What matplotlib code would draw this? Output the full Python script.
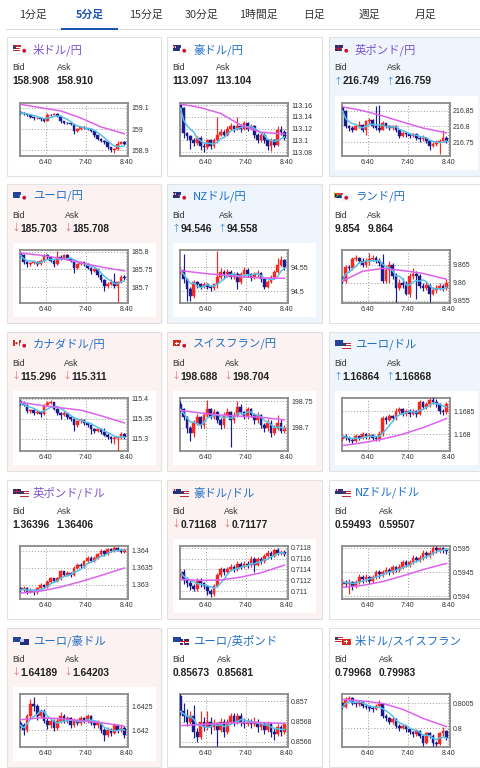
import matplotlib
matplotlib.use('Agg')
import matplotlib.pyplot as plt
from matplotlib.patches import Rectangle, Ellipse, Polygon
import numpy as np
import pandas as pd

# ---------------- data ----------------
tabs = ["1分足", "5分足", "15分足", "30分足", "1時間足", "日足", "週足", "月足"]
active_tab = "5分足"
x_tick_vals = [40, 100, 160]          # minutes after 6:00
x_tick_labels = ["6:40", "7:40", "8:40"]
ma_knots = [0, 6, 12, 18, 24, 31]     # candle index of long-MA readings

# 米ドル/円
usdjpy_open = 159.082
usdjpy_close = [159.075,159.072,159.065,159.056,159.050,159.052,159.046,159.040,159.068,159.066,159.072,159.060,159.036,159.030,159.028,159.024,158.990,159.000,159.010,159.005,159.000,158.990,158.970,158.955,158.946,158.940,158.915,158.900,158.905,158.932,158.940,158.930]
usdjpy_high = [159.085,159.078,159.074,159.066,159.057,159.055,159.054,159.048,159.074,159.071,159.075,159.073,159.062,159.038,159.034,159.030,159.026,159.004,159.014,159.013,159.006,159.002,158.992,158.972,158.958,158.950,158.942,158.916,158.912,158.942,158.945,158.942]
usdjpy_low = [159.070,159.066,159.060,159.050,159.044,159.046,159.040,159.034,159.038,159.060,159.064,159.056,159.030,159.024,159.022,159.018,158.976,158.986,158.998,159.000,158.994,158.984,158.962,158.948,158.938,158.932,158.905,158.893,158.890,158.900,158.930,158.925]
usdjpy_ma = [159.116,159.100,159.085,159.052,159.010,158.978]
usdjpy_ticks = [158.9, 159.0, 159.1]
usdjpy_tick_labels = ["158.9", "159", "159.1"]

# 豪ドル/円
audjpy_open = 113.162
audjpy_close = [113.155,113.113,113.107,113.100,113.095,113.105,113.090,113.088,113.100,113.090,113.100,113.110,113.115,113.110,113.120,113.125,113.120,113.125,113.120,113.130,113.120,113.125,113.110,113.100,113.110,113.100,113.090,113.100,113.092,113.118,113.115,113.105]
audjpy_high = [113.163,113.157,113.115,113.110,113.104,113.108,113.107,113.095,113.103,113.102,113.104,113.140,113.120,113.117,113.124,113.130,113.127,113.140,113.128,113.133,113.131,113.128,113.126,113.112,113.114,113.112,113.102,113.104,113.102,113.125,113.124,113.118]
audjpy_low = [113.150,113.105,113.100,113.086,113.090,113.093,113.084,113.080,113.086,113.086,113.087,113.096,113.107,113.106,113.108,113.117,113.114,113.117,113.115,113.118,113.116,113.118,113.105,113.096,113.097,113.096,113.084,113.082,113.088,113.090,113.110,113.100]
audjpy_ma = [113.162,113.156,113.146,113.126,113.114,113.111]
audjpy_ticks = [113.08, 113.10, 113.12, 113.14, 113.16]
audjpy_tick_labels = ["113.08", "113.1", "113.12", "113.14", "113.16"]

# 英ポンド/円
gbpjpy_open = 216.862
gbpjpy_close = [216.850,216.800,216.795,216.790,216.800,216.805,216.790,216.816,216.820,216.802,216.796,216.790,216.810,216.800,216.795,216.800,216.790,216.770,216.780,216.775,216.770,216.775,216.765,216.760,216.765,216.755,216.740,216.745,216.750,216.755,216.765,216.755]
gbpjpy_high = [216.866,216.852,216.806,216.800,216.804,216.818,216.808,216.822,216.826,216.824,216.865,216.868,216.816,216.812,216.806,216.806,216.804,216.792,216.786,216.784,216.778,216.780,216.778,216.770,216.772,216.768,216.758,216.750,216.756,216.760,216.788,216.770]
gbpjpy_low = [216.845,216.795,216.786,216.782,216.788,216.796,216.784,216.774,216.808,216.796,216.790,216.784,216.788,216.796,216.788,216.790,216.782,216.764,216.766,216.768,216.764,216.766,216.758,216.752,216.754,216.748,216.725,216.734,216.740,216.714,216.750,216.748]
gbpjpy_ma = [216.862,216.850,216.833,216.814,216.795,216.780]
gbpjpy_ticks = [216.75, 216.80, 216.85]
gbpjpy_tick_labels = ["216.75", "216.8", "216.85"]

# ユーロ/円
eurjpy_open = 185.795
eurjpy_close = [185.790,185.770,185.765,185.768,185.772,185.765,185.775,185.790,185.785,185.775,185.765,185.785,185.782,185.790,185.780,185.775,185.755,185.765,185.770,185.765,185.755,185.745,185.750,185.735,185.720,185.705,185.710,185.715,185.705,185.715,185.730,185.725]
eurjpy_high = [185.798,185.792,185.774,185.772,185.776,185.775,185.779,185.794,185.792,185.788,185.778,185.802,185.790,185.794,185.792,185.782,185.778,185.768,185.774,185.772,185.768,185.758,185.753,185.752,185.738,185.722,185.715,185.722,185.740,185.718,185.734,185.734]
eurjpy_low = [185.786,185.766,185.758,185.760,185.764,185.760,185.762,185.772,185.780,185.770,185.758,185.762,185.776,185.778,185.776,185.770,185.740,185.752,185.762,185.760,185.750,185.738,185.742,185.730,185.715,185.690,185.698,185.706,185.698,185.660,185.712,185.720]
eurjpy_ma = [185.796,185.790,185.781,185.769,185.757,185.746]
eurjpy_ticks = [185.70, 185.75, 185.80]
eurjpy_tick_labels = ["185.7", "185.75", "185.8"]

# NZドル/円
nzdjpy_open = 94.540
nzdjpy_close = [94.545,94.525,94.505,94.490,94.520,94.515,94.510,94.515,94.510,94.506,94.515,94.530,94.540,94.535,94.540,94.530,94.535,94.520,94.535,94.545,94.535,94.530,94.535,94.538,94.525,94.510,94.520,94.530,94.540,94.555,94.565,94.550]
nzdjpy_high = [94.550,94.578,94.528,94.510,94.524,94.522,94.518,94.520,94.518,94.513,94.518,94.584,94.548,94.545,94.546,94.544,94.541,94.540,94.540,94.550,94.548,94.538,94.540,94.545,94.540,94.528,94.524,94.533,94.545,94.570,94.574,94.566]
nzdjpy_low = [94.536,94.518,94.480,94.480,94.486,94.508,94.504,94.506,94.505,94.500,94.502,94.508,94.526,94.528,94.530,94.525,94.525,94.505,94.516,94.530,94.530,94.522,94.526,94.530,94.520,94.505,94.506,94.518,94.526,94.538,94.552,94.545]
nzdjpy_ma = [94.543,94.538,94.534,94.530,94.528,94.527]
nzdjpy_ticks = [94.50, 94.55]
nzdjpy_tick_labels = ["94.5", "94.55"]

# ランド/円
zarjpy_open = 9.8615
zarjpy_close = [9.8605,9.8645,9.8640,9.8665,9.8670,9.8660,9.8650,9.8660,9.8665,9.8670,9.8660,9.8655,9.8605,9.8635,9.8650,9.8620,9.8585,9.8600,9.8595,9.8570,9.8620,9.8625,9.8620,9.8590,9.8585,9.8595,9.8570,9.8580,9.8585,9.8590,9.8585,9.8600]
zarjpy_high = [9.8620,9.8650,9.8650,9.8672,9.8678,9.8672,9.8668,9.8668,9.8682,9.8676,9.8674,9.8668,9.8680,9.8645,9.8660,9.8655,9.8628,9.8610,9.8612,9.8605,9.8628,9.8640,9.8632,9.8625,9.8600,9.8602,9.8598,9.8588,9.8595,9.8600,9.8598,9.8610]
zarjpy_low = [9.8600,9.8600,9.8630,9.8635,9.8660,9.8655,9.8645,9.8645,9.8650,9.8660,9.8655,9.8648,9.8600,9.8600,9.8600,9.8610,9.8548,9.8580,9.8585,9.8565,9.8562,9.8610,9.8555,9.8585,9.8578,9.8580,9.8546,9.8565,9.8572,9.8580,9.8578,9.8580]
zarjpy_ma = [9.8605,9.8632,9.8640,9.8634,9.8626,9.8610]
zarjpy_ticks = [9.855, 9.860, 9.865]
zarjpy_tick_labels = ["9.855", "9.86", "9.865"]

# カナダドル/円
cadjpy_open = 115.394
cadjpy_close = [115.390,115.385,115.370,115.372,115.365,115.368,115.362,115.385,115.390,115.392,115.375,115.365,115.360,115.365,115.355,115.350,115.335,115.345,115.348,115.340,115.335,115.325,115.320,115.325,115.318,115.310,115.305,115.300,115.302,115.305,115.312,115.305]
cadjpy_high = [115.398,115.394,115.388,115.376,115.374,115.372,115.370,115.388,115.395,115.398,115.393,115.378,115.367,115.369,115.366,115.358,115.352,115.348,115.352,115.350,115.343,115.338,115.328,115.328,115.327,115.327,115.314,115.308,115.306,115.308,115.318,115.315]
cadjpy_low = [115.386,115.382,115.366,115.366,115.360,115.362,115.356,115.360,115.382,115.388,115.372,115.360,115.350,115.358,115.350,115.344,115.320,115.330,115.340,115.336,115.330,115.312,115.315,115.318,115.312,115.306,115.300,115.290,115.286,115.270,115.300,115.300]
cadjpy_ma = [115.392,115.384,115.378,115.372,115.358,115.340]
cadjpy_ticks = [115.30, 115.35, 115.40]
cadjpy_tick_labels = ["115.3", "115.35", "115.4"]

# スイスフラン/円
chfjpy_open = 198.745
chfjpy_close = [198.735,198.720,198.700,198.690,198.710,198.720,198.705,198.725,198.735,198.720,198.730,198.715,198.705,198.725,198.730,198.715,198.725,198.740,198.730,198.720,198.735,198.725,198.715,198.725,198.705,198.700,198.710,198.690,198.700,198.710,198.695,198.700]
chfjpy_high = [198.750,198.738,198.722,198.704,198.714,198.726,198.722,198.730,198.752,198.738,198.736,198.732,198.718,198.730,198.738,198.732,198.730,198.750,198.744,198.732,198.740,198.738,198.728,198.730,198.726,198.710,198.716,198.714,198.706,198.725,198.716,198.706]
chfjpy_low = [198.730,198.714,198.690,198.676,198.684,198.706,198.700,198.700,198.720,198.716,198.716,198.710,198.698,198.700,198.720,198.665,198.710,198.720,198.726,198.716,198.716,198.720,198.708,198.710,198.700,198.692,198.694,198.684,198.686,198.696,198.690,198.690]
chfjpy_ma = [198.733,198.728,198.724,198.722,198.720,198.715]
chfjpy_ticks = [198.70, 198.75]
chfjpy_tick_labels = ["198.7", "198.75"]

# ユーロ/ドル
eurusd_open = 1.16790
eurusd_close = [1.16795,1.16792,1.16788,1.16785,1.16795,1.16792,1.16800,1.16795,1.16797,1.16792,1.16790,1.16800,1.16835,1.16830,1.16840,1.16835,1.16850,1.16855,1.16845,1.16850,1.16845,1.16850,1.16845,1.16870,1.16860,1.16865,1.16875,1.16870,1.16865,1.16850,1.16848,1.16865]
eurusd_high = [1.16800,1.16800,1.16796,1.16792,1.16800,1.16798,1.16805,1.16802,1.16802,1.16800,1.16796,1.16806,1.16840,1.16840,1.16845,1.16842,1.16858,1.16860,1.16858,1.16856,1.16854,1.16856,1.16852,1.16874,1.16872,1.16870,1.16880,1.16882,1.16876,1.16868,1.16856,1.16870]
eurusd_low = [1.16785,1.16786,1.16782,1.16778,1.16782,1.16788,1.16790,1.16790,1.16790,1.16786,1.16784,1.16784,1.16795,1.16822,1.16828,1.16828,1.16830,1.16845,1.16840,1.16840,1.16838,1.16842,1.16838,1.16842,1.16855,1.16856,1.16860,1.16865,1.16860,1.16845,1.16842,1.16845]
eurusd_ma = [1.16775,1.16781,1.16789,1.16800,1.16814,1.16834]
eurusd_ticks = [1.1680, 1.1685]
eurusd_tick_labels = ["1.168", "1.1685"]

# 英ポンド/ドル
gbpusd_open = 1.36290
gbpusd_close = [1.36285,1.36290,1.36280,1.36285,1.36278,1.36290,1.36300,1.36295,1.36310,1.36320,1.36312,1.36320,1.36340,1.36330,1.36335,1.36330,1.36350,1.36360,1.36355,1.36370,1.36380,1.36372,1.36380,1.36390,1.36400,1.36390,1.36405,1.36400,1.36410,1.36403,1.36398,1.36403]
gbpusd_high = [1.36295,1.36296,1.36294,1.36290,1.36288,1.36294,1.36305,1.36304,1.36314,1.36324,1.36322,1.36324,1.36345,1.36342,1.36340,1.36338,1.36355,1.36365,1.36364,1.36374,1.36385,1.36384,1.36385,1.36395,1.36405,1.36404,1.36410,1.36408,1.36415,1.36412,1.36408,1.36408]
gbpusd_low = [1.36280,1.36280,1.36274,1.36276,1.36272,1.36274,1.36286,1.36290,1.36292,1.36306,1.36308,1.36308,1.36316,1.36326,1.36326,1.36324,1.36326,1.36346,1.36350,1.36350,1.36366,1.36368,1.36368,1.36376,1.36386,1.36386,1.36388,1.36396,1.36398,1.36400,1.36394,1.36394]
gbpusd_ma = [1.36276,1.36282,1.36294,1.36310,1.36328,1.36350]
gbpusd_ticks = [1.3630, 1.3635, 1.3640]
gbpusd_tick_labels = ["1.363", "1.3635", "1.364"]

# 豪ドル/ドル
audusd_open = 0.71130
audusd_close = [0.71135,0.71120,0.71115,0.71110,0.71105,0.71120,0.71115,0.71110,0.71100,0.71095,0.71110,0.71130,0.71140,0.71135,0.71140,0.71145,0.71140,0.71150,0.71145,0.71150,0.71148,0.71160,0.71148,0.71160,0.71155,0.71165,0.71170,0.71165,0.71175,0.71170,0.71172,0.71168]
audusd_high = [0.71140,0.71140,0.71126,0.71120,0.71114,0.71124,0.71124,0.71118,0.71112,0.71104,0.71114,0.71134,0.71145,0.71143,0.71144,0.71150,0.71148,0.71155,0.71153,0.71156,0.71155,0.71164,0.71162,0.71163,0.71163,0.71168,0.71175,0.71174,0.71178,0.71180,0.71176,0.71176]
audusd_low = [0.71125,0.71114,0.71108,0.71102,0.71100,0.71100,0.71108,0.71104,0.71094,0.71090,0.71092,0.71108,0.71126,0.71130,0.71132,0.71138,0.71135,0.71138,0.71140,0.71142,0.71142,0.71145,0.71135,0.71146,0.71150,0.71152,0.71162,0.71160,0.71162,0.71166,0.71166,0.71164]
audusd_ma = [0.71122,0.71120,0.71121,0.71126,0.71134,0.71148]
audusd_ticks = [0.7110, 0.7112, 0.7114, 0.7116, 0.7118]
audusd_tick_labels = ["0.711", "0.7112", "0.7114", "0.7116", "0.7118"]

# NZドル/ドル
nzdusd_open = 0.59425
nzdusd_close = [0.59430,0.59425,0.59430,0.59420,0.59430,0.59440,0.59435,0.59440,0.59432,0.59440,0.59450,0.59445,0.59450,0.59455,0.59450,0.59460,0.59455,0.59460,0.59470,0.59465,0.59470,0.59480,0.59475,0.59480,0.59490,0.59485,0.59490,0.59500,0.59495,0.59500,0.59495,0.59493]
nzdusd_high = [0.59436,0.59434,0.59436,0.59432,0.59434,0.59445,0.59444,0.59446,0.59442,0.59444,0.59455,0.59454,0.59455,0.59460,0.59458,0.59464,0.59462,0.59466,0.59475,0.59474,0.59475,0.59485,0.59484,0.59485,0.59495,0.59494,0.59495,0.59505,0.59504,0.59503,0.59503,0.59500]
nzdusd_low = [0.59420,0.59418,0.59405,0.59412,0.59416,0.59426,0.59428,0.59430,0.59426,0.59428,0.59436,0.59438,0.59440,0.59445,0.59444,0.59446,0.59450,0.59450,0.59456,0.59460,0.59460,0.59466,0.59470,0.59470,0.59476,0.59480,0.59480,0.59486,0.59490,0.59490,0.59490,0.59488]
nzdusd_ma = [0.59418,0.59422,0.59430,0.59442,0.59455,0.59468]
nzdusd_ticks = [0.5940, 0.5945, 0.5950]
nzdusd_tick_labels = ["0.594", "0.5945", "0.595"]

# ユーロ/豪ドル
euraud_open = 1.64215
euraud_close = [1.64210,1.64200,1.64230,1.64255,1.64250,1.64230,1.64240,1.64220,1.64210,1.64220,1.64205,1.64220,1.64230,1.64220,1.64225,1.64210,1.64220,1.64215,1.64225,1.64220,1.64230,1.64215,1.64210,1.64215,1.64200,1.64190,1.64200,1.64195,1.64210,1.64200,1.64205,1.64190]
euraud_high = [1.64220,1.64215,1.64235,1.64265,1.64270,1.64255,1.64245,1.64245,1.64225,1.64226,1.64224,1.64226,1.64238,1.64234,1.64230,1.64228,1.64226,1.64224,1.64230,1.64228,1.64235,1.64232,1.64220,1.64222,1.64218,1.64205,1.64206,1.64204,1.64215,1.64212,1.64212,1.64208]
euraud_low = [1.64204,1.64190,1.64196,1.64225,1.64240,1.64222,1.64226,1.64214,1.64202,1.64205,1.64198,1.64200,1.64215,1.64214,1.64216,1.64205,1.64206,1.64210,1.64210,1.64214,1.64216,1.64210,1.64204,1.64205,1.64194,1.64178,1.64185,1.64188,1.64192,1.64195,1.64196,1.64184]
euraud_ma = [1.64222,1.64226,1.64224,1.64220,1.64216,1.64208]
euraud_ticks = [1.6420, 1.6425]
euraud_tick_labels = ["1.642", "1.6425"]

# ユーロ/英ポンド
eurgbp_open = 0.85705
eurgbp_close = [0.85690,0.85685,0.85680,0.85685,0.85670,0.85665,0.85680,0.85675,0.85680,0.85675,0.85678,0.85672,0.85680,0.85670,0.85680,0.85685,0.85680,0.85685,0.85680,0.85678,0.85680,0.85678,0.85680,0.85675,0.85678,0.85672,0.85678,0.85670,0.85668,0.85675,0.85670,0.85678]
eurgbp_high = [0.85707,0.85698,0.85692,0.85690,0.85696,0.85674,0.85690,0.85684,0.85690,0.85684,0.85682,0.85680,0.85683,0.85682,0.85682,0.85688,0.85688,0.85688,0.85688,0.85683,0.85683,0.85682,0.85684,0.85682,0.85680,0.85680,0.85681,0.85680,0.85674,0.85678,0.85677,0.85680]
eurgbp_low = [0.85686,0.85680,0.85676,0.85678,0.85664,0.85660,0.85663,0.85671,0.85672,0.85668,0.85672,0.85656,0.85670,0.85665,0.85668,0.85678,0.85676,0.85678,0.85676,0.85674,0.85676,0.85674,0.85676,0.85670,0.85672,0.85668,0.85670,0.85665,0.85662,0.85666,0.85666,0.85668]
eurgbp_ma = [0.85676,0.85677,0.85678,0.85679,0.85679,0.85678]
eurgbp_ticks = [0.8566, 0.8568, 0.8570]
eurgbp_tick_labels = ["0.8566", "0.8568", "0.857"]

# 米ドル/スイスフラン
usdchf_open = 0.80050
usdchf_close = [0.80042,0.80058,0.80060,0.80050,0.80048,0.80052,0.80045,0.80042,0.80040,0.80038,0.80045,0.80048,0.80025,0.80020,0.80012,0.80018,0.80005,0.80000,0.80005,0.79998,0.79993,0.79988,0.79995,0.79985,0.79970,0.79990,0.79985,0.79970,0.79968,0.79990,0.79995,0.79980]
usdchf_high = [0.80052,0.80062,0.80064,0.80062,0.80054,0.80056,0.80054,0.80048,0.80045,0.80044,0.80048,0.80056,0.80050,0.80028,0.80022,0.80022,0.80020,0.80008,0.80008,0.80006,0.80000,0.79995,0.79998,0.79996,0.79988,0.79993,0.79992,0.79988,0.79975,0.79993,0.80003,0.79996]
usdchf_low = [0.80038,0.80040,0.80054,0.80046,0.80042,0.80045,0.80040,0.80038,0.80035,0.80033,0.80036,0.80042,0.80020,0.80014,0.80008,0.80009,0.80000,0.79995,0.79998,0.79992,0.79988,0.79982,0.79985,0.79980,0.79965,0.79968,0.79980,0.79965,0.79964,0.79966,0.79985,0.79976]
usdchf_ma = [0.80058,0.80055,0.80050,0.80038,0.80020,0.80003]
usdchf_ticks = [0.8000, 0.8005]
usdchf_tick_labels = ["0.8", "0.8005"]

# ---------------- style / layout ----------------
W, H = 480, 768
PURPLE = '#7b50d2'
BLUE_T = '#1f6fc6'
RED = '#f42a22'
NAVY = '#1b1b8e'
MA_S = '#56c0ea'
MA_L = '#dd62ee'
PINK_BG = '#fdf2f2'
BLUE_BG = '#eff5fc'
JP = ['Noto Sans CJK JP', 'DejaVu Sans']
LAT = ['Liberation Sans', 'DejaVu Sans']

col_x = [7, 167, 329]
col_w = [154, 155, 155]
row_y = [37, 184, 332, 480, 628]
PANEL_H = 139

pairs = [
    dict(name='米ドル/円', flags=('USD', 'JPY'), tc=PURPLE, bg='white', bid='158.908', ask='158.910', arrow=None,
         o0=usdjpy_open, c=usdjpy_close, h=usdjpy_high, l=usdjpy_low, ma=usdjpy_ma, yt=usdjpy_ticks, yl=usdjpy_tick_labels, ylim=(158.874, 159.122)),
    dict(name='豪ドル/円', flags=('AUD', 'JPY'), tc=BLUE_T, bg='white', bid='113.097', ask='113.104', arrow=None,
         o0=audjpy_open, c=audjpy_close, h=audjpy_high, l=audjpy_low, ma=audjpy_ma, yt=audjpy_ticks, yl=audjpy_tick_labels, ylim=(113.0735, 113.1638)),
    dict(name='英ポンド/円', flags=('GBP', 'JPY'), tc=PURPLE, bg=BLUE_BG, bid='216.749', ask='216.759', arrow='up',
         o0=gbpjpy_open, c=gbpjpy_close, h=gbpjpy_high, l=gbpjpy_low, ma=gbpjpy_ma, yt=gbpjpy_ticks, yl=gbpjpy_tick_labels, ylim=(216.707, 216.874)),
    dict(name='ユーロ/円', flags=('EUR', 'JPY'), tc=BLUE_T, bg=PINK_BG, bid='185.703', ask='185.708', arrow='down',
         o0=eurjpy_open, c=eurjpy_close, h=eurjpy_high, l=eurjpy_low, ma=eurjpy_ma, yt=eurjpy_ticks, yl=eurjpy_tick_labels, ylim=(185.656, 185.8046)),
    dict(name='NZドル/円', flags=('NZD', 'JPY'), tc=BLUE_T, bg=BLUE_BG, bid='94.546', ask='94.558', arrow='up',
         o0=nzdjpy_open, c=nzdjpy_close, h=nzdjpy_high, l=nzdjpy_low, ma=nzdjpy_ma, yt=nzdjpy_ticks, yl=nzdjpy_tick_labels, ylim=(94.476, 94.5856)),
    dict(name='ランド/円', flags=('ZAR', 'JPY'), tc=BLUE_T, bg='white', bid='9.854', ask='9.864', arrow=None,
         o0=zarjpy_open, c=zarjpy_close, h=zarjpy_high, l=zarjpy_low, ma=zarjpy_ma, yt=zarjpy_ticks, yl=zarjpy_tick_labels, ylim=(9.8544, 9.8691)),
    dict(name='カナダドル/円', flags=('CAD', 'JPY'), tc=BLUE_T, bg=PINK_BG, bid='115.296', ask='115.311', arrow='down',
         o0=cadjpy_open, c=cadjpy_close, h=cadjpy_high, l=cadjpy_low, ma=cadjpy_ma, yt=cadjpy_ticks, yl=cadjpy_tick_labels, ylim=(115.2695, 115.4025)),
    dict(name='スイスフラン/円', flags=('CHF', 'JPY'), tc=BLUE_T, bg=PINK_BG, bid='198.688', ask='198.704', arrow='down',
         o0=chfjpy_open, c=chfjpy_close, h=chfjpy_high, l=chfjpy_low, ma=chfjpy_ma, yt=chfjpy_ticks, yl=chfjpy_tick_labels, ylim=(198.657, 198.756)),
    dict(name='ユーロ/ドル', flags=('EUR', 'USD'), tc=BLUE_T, bg=BLUE_BG, bid='1.16864', ask='1.16868', arrow='up',
         o0=eurusd_open, c=eurusd_close, h=eurusd_high, l=eurusd_low, ma=eurusd_ma, yt=eurusd_ticks, yl=eurusd_tick_labels, ylim=(1.16763, 1.16879)),
    dict(name='英ポンド/ドル', flags=('GBP', 'USD'), tc=PURPLE, bg='white', bid='1.36396', ask='1.36406', arrow=None,
         o0=gbpusd_open, c=gbpusd_close, h=gbpusd_high, l=gbpusd_low, ma=gbpusd_ma, yt=gbpusd_ticks, yl=gbpusd_tick_labels, ylim=(1.362588, 1.364147)),
    dict(name='豪ドル/ドル', flags=('AUD', 'USD'), tc=BLUE_T, bg=PINK_BG, bid='0.71168', ask='0.71177', arrow='down',
         o0=audusd_open, c=audusd_close, h=audusd_high, l=audusd_low, ma=audusd_ma, yt=audusd_ticks, yl=audusd_tick_labels, ylim=(0.71086, 0.71183)),
    dict(name='NZドル/ドル', flags=('NZD', 'USD'), tc=BLUE_T, bg='white', bid='0.59493', ask='0.59507', arrow=None,
         o0=nzdusd_open, c=nzdusd_close, h=nzdusd_high, l=nzdusd_low, ma=nzdusd_ma, yt=nzdusd_ticks, yl=nzdusd_tick_labels, ylim=(0.593938, 0.595042)),
    dict(name='ユーロ/豪ドル', flags=('EUR', 'AUD'), tc=BLUE_T, bg=PINK_BG, bid='1.64189', ask='1.64203', arrow='down',
         o0=euraud_open, c=euraud_close, h=euraud_high, l=euraud_low, ma=euraud_ma, yt=euraud_ticks, yl=euraud_tick_labels, ylim=(1.641646, 1.64276)),
    dict(name='ユーロ/英ポンド', flags=('EUR', 'GBP'), tc=BLUE_T, bg='white', bid='0.85673', ask='0.85681', arrow=None,
         o0=eurgbp_open, c=eurgbp_close, h=eurgbp_high, l=eurgbp_low, ma=eurgbp_ma, yt=eurgbp_ticks, yl=eurgbp_tick_labels, ylim=(0.85655, 0.85707)),
    dict(name='米ドル/スイスフラン', flags=('USD', 'CHF'), tc=BLUE_T, bg='white', bid='0.79968', ask='0.79983', arrow=None,
         o0=usdchf_open, c=usdchf_close, h=usdchf_high, l=usdchf_low, ma=usdchf_ma, yt=usdchf_ticks, yl=usdchf_tick_labels, ylim=(0.79962, 0.80069)),
]

fig = plt.figure(figsize=(W / 100, H / 100), dpi=100)
fig.patch.set_facecolor('white')
renderer = fig.canvas.get_renderer()


def fx(x):
    return x / W


def fy(y):
    return 1 - y / H


def rect(x, y, w, h, color, z=1, ec='none', lw=0):
    fig.patches.append(Rectangle((fx(x), fy(y + h)), w / W, h / H, transform=fig.transFigure,
                                 facecolor=color, edgecolor=ec, lw=lw, zorder=z))


def dot(cx, cy, r, color, z=3):
    fig.patches.append(Ellipse((fx(cx), fy(cy)), 2 * r / W, 2 * r / H, transform=fig.transFigure,
                               facecolor=color, edgecolor='none', zorder=z))


def flag(code, x, y, w, h, z=3):
    if code == 'USD':
        rect(x, y, w, h, '#c4283a', z)
        for i in (1, 3):
            rect(x, y + h * i / 5, w, h / 5, 'white', z + 0.1)
        rect(x, y, w * 0.45, h * 0.55, '#3c3b6e', z + 0.2)
    elif code == 'JPY':
        rect(x, y, w, h, 'white', z, ec='#dddddd', lw=0.3)
        dot(x + w / 2, y + h / 2, h * 0.3, '#d0102e', z + 0.2)
    elif code == 'EUR':
        rect(x, y, w, h, '#22449a', z)
    elif code == 'GBP':
        rect(x, y, w, h, '#24306e', z)
        rect(x, y + h * 0.38, w, h * 0.24, 'white', z + 0.1)
        rect(x + w * 0.4, y, w * 0.2, h, 'white', z + 0.1)
        rect(x, y + h * 0.43, w, h * 0.14, '#cf142b', z + 0.2)
        rect(x + w * 0.44, y, w * 0.12, h, '#cf142b', z + 0.2)
    elif code in ('AUD', 'NZD'):
        rect(x, y, w, h, '#23307a', z)
        rect(x, y, w * 0.45, h * 0.5, '#c8c8e0', z + 0.1)
        rect(x + w * 0.18, y, w * 0.1, h * 0.5, '#cf142b', z + 0.2)
        if code == 'NZD':
            dot(x + w * 0.75, y + h * 0.55, 0.8, '#cf142b', z + 0.2)
    elif code == 'ZAR':
        rect(x, y, w, h / 2, '#de3831', z)
        rect(x, y + h / 2, w, h / 2, '#1b3a8f', z)
        rect(x, y + h * 0.38, w, h * 0.24, '#007a4d', z + 0.1)
        fig.patches.append(Polygon([(fx(x), fy(y)), (fx(x + w * 0.4), fy(y + h / 2)), (fx(x), fy(y + h))],
                                   closed=True, transform=fig.transFigure, facecolor='#222', edgecolor='#e0b020',
                                   lw=0.4, zorder=z + 0.2))
    elif code == 'CAD':
        rect(x, y, w, h, 'white', z)
        rect(x, y, w * 0.25, h, '#d52b1e', z + 0.1)
        rect(x + w * 0.75, y, w * 0.25, h, '#d52b1e', z + 0.1)
        dot(x + w / 2, y + h / 2, h * 0.22, '#d52b1e', z + 0.2)
    elif code == 'CHF':
        rect(x, y, w, h, '#d52b1e', z)
        rect(x + w * 0.25, y + h * 0.42, w * 0.5, h * 0.16, 'white', z + 0.1)
        rect(x + w * 0.42, y + h * 0.2, w * 0.16, h * 0.6, 'white', z + 0.1)


# ---------------- tab bar ----------------
tab_cx = [33.3, 89.7, 146, 201.8, 258, 313.7, 369.7, 425.5]
for t, cx in zip(tabs, tab_cx):
    act = (t == active_tab)
    fig.text(fx(cx), fy(15), t, ha='center', va='center', fontsize=7.8, family=JP,
             color='#1a56b6' if act else '#333333', fontweight='bold' if act else 'normal')
rect(6, 29, 474, 1.2, '#dcdcdc', 1)
rect(61.3, 28.2, 56.7, 2.2, '#1a56b6', 2)

# ---------------- panels ----------------
for i, p in enumerate(pairs):
    r, cidx = divmod(i, 3)
    px, py = col_x[cidx], row_y[r]
    pw = col_w[cidx]
    rect(px, py, pw, PANEL_H, p['bg'], 0.5, ec='#e2e2e2', lw=0.8)
    if p['bg'] != 'white':
        rect(px + 6, py + 59, 143, 74, 'white', 0.6)

    # flags
    flag(p['flags'][0], px + 5.5, py + 8.5, 8, 5.5, 3)
    flag(p['flags'][1], px + 13, py + 10.5, 8.5, 6.5, 4)

    # title
    fig.text(fx(px + 26), fy(py + 12.5), p['name'], ha='left', va='center', fontsize=8.2,
             family=JP, color=p['tc'])

    # Bid / Ask
    bx = px + 5.7
    fig.text(fx(bx), fy(py + 31), 'Bid', ha='left', va='center', fontsize=6.2, family=LAT, color='#333333')
    arrow_char = {'up': '↑', 'down': '↓'}.get(p['arrow'])
    arrow_col = '#3f8fd2' if p['arrow'] == 'up' else '#e07272'
    vy = fy(py + 44.5)
    nx = bx
    if arrow_char:
        fig.text(fx(bx + 3.3), vy, arrow_char, ha='center', va='center', fontsize=6.5, family=JP, color=arrow_col)
        nx = bx + 8
    tb = fig.text(fx(nx), vy, p['bid'], ha='left', va='center', fontsize=7.4, fontweight='bold',
                  family=LAT, color='#222222')
    right = tb.get_window_extent(renderer).x1
    ax_x = right + 6.8
    fig.text(fx(ax_x), fy(py + 31), 'Ask', ha='left', va='center', fontsize=6.2, family=LAT, color='#333333')
    nx = ax_x
    if arrow_char:
        fig.text(fx(ax_x + 3.3), vy, arrow_char, ha='center', va='center', fontsize=6.5, family=JP, color=arrow_col)
        nx = ax_x + 8
    fig.text(fx(nx), vy, p['ask'], ha='left', va='center', fontsize=7.4, fontweight='bold',
             family=LAT, color='#222222')

    # chart
    ax = fig.add_axes([fx(px + 12.5), fy(py + 119), 108.5 / W, 53 / H])
    ax.set_zorder(10)
    ax.set_facecolor('white')
    c = np.array(p['c'])
    hi = np.array(p['h'])
    lo = np.array(p['l'])
    o = np.r_[p['o0'], c[:-1]]
    n = len(c)
    x = 2.5 + 5 * np.arange(n)
    cols = np.where(c >= o, RED, NAVY)
    ax.vlines(x, lo, hi, colors=cols, lw=0.85, zorder=3)
    ax.bar(x, c - o, bottom=o, width=4.0, color=cols, edgecolor=cols, lw=0.3, zorder=4)
    sma = pd.Series(c).rolling(5, min_periods=1).mean().to_numpy()
    ax.plot(x, sma, color=MA_S, lw=1.1, zorder=5)
    kx = 2.5 + 5 * np.array(ma_knots)
    ax.plot(kx, p['ma'], color=MA_L, lw=1.1, zorder=5)

    ax.set_xlim(1.2, 162.8)
    ax.set_ylim(*p['ylim'])
    ax.set_xticks(x_tick_vals)
    ax.set_xticklabels(x_tick_labels)
    ax.set_yticks(p['yt'])
    ax.set_yticklabels(p['yl'])
    ax.yaxis.tick_right()
    ax.tick_params(length=0, labelsize=5.0, pad=2.2, colors='#333333')
    for lab in ax.get_xticklabels() + ax.get_yticklabels():
        lab.set_family(LAT)
    ax.grid(True, linestyle=(0, (1, 2)), color='#9a9a9a', lw=0.7, zorder=1)
    ax.set_axisbelow(True)
    for s in ax.spines.values():
        s.set_color('#8a8a8a')
        s.set_linewidth(1.3)

fig.savefig('out.png', dpi=100, facecolor='white')
